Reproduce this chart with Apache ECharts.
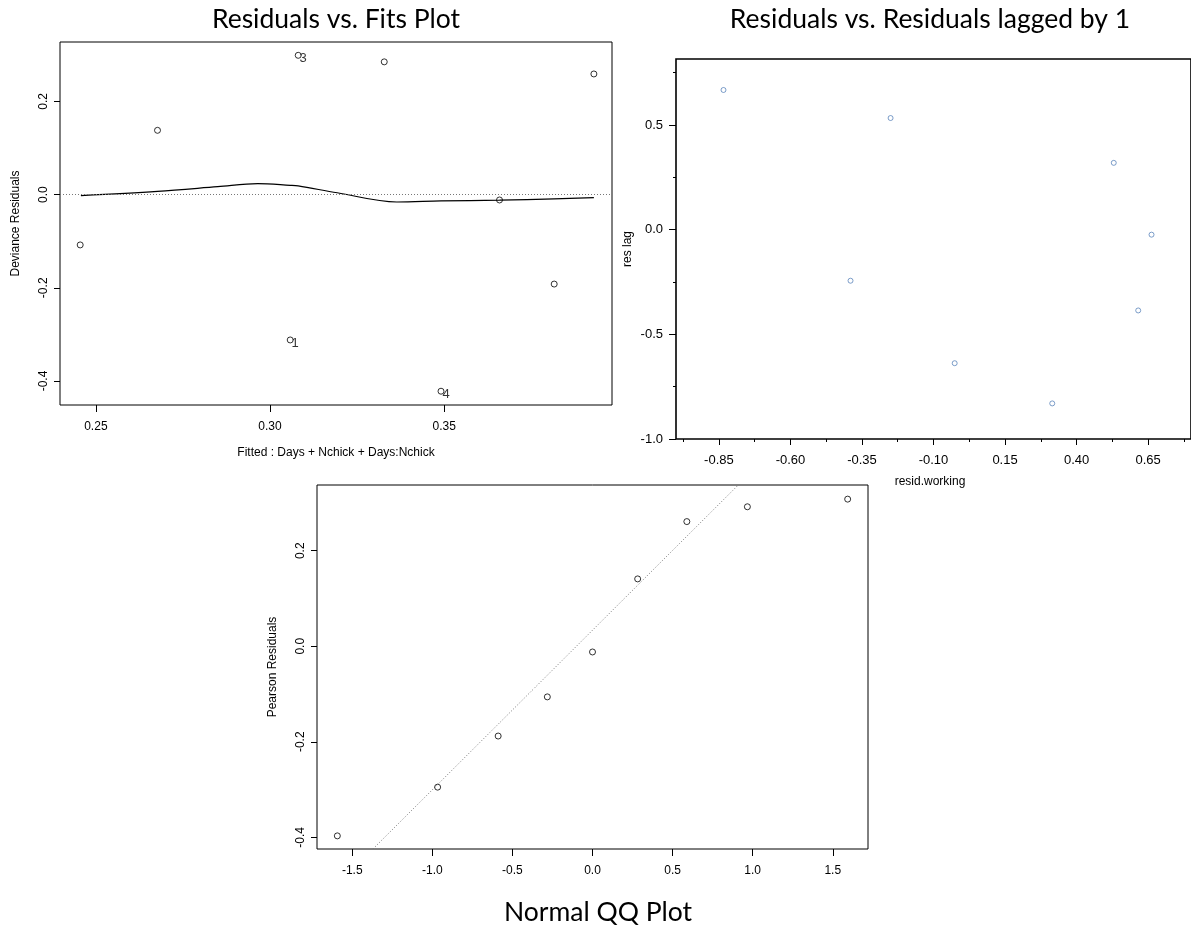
<!DOCTYPE html>
<html>
<head>
<meta charset="utf-8">
<script src="https://cdn.jsdelivr.net/npm/echarts@6/dist/echarts.min.js"></script>
<style>
html,body{margin:0;padding:0;background:#fff;}
#chart{width:1191px;height:930px;}
</style>
</head>
<body>
<div id="chart"></div>
<script>
// ---- Residuals vs. Fits ----
var fitsX   = [0.2455, 0.2677, 0.3081, 0.3328, 0.3930, 0.3659, 0.3816, 0.3058, 0.3491];
var devRes  = [-0.108, 0.138, 0.299, 0.285, 0.259, -0.0115, -0.192, -0.312, -0.422];
var fitLabels = ['', '', '3', '', '', '', '', '1', '4'];
var smoothX = [0.2457, 0.2677, 0.2850, 0.2965, 0.3058, 0.3081, 0.3193, 0.3364, 0.3491, 0.3659, 0.3816, 0.3930];
var smoothY = [-0.002, 0.007, 0.017, 0.0237, 0.020, 0.0186, 0.004, -0.0158, -0.0136, -0.012, -0.009, -0.0065];
var fitsXTicks = [0.25, 0.30, 0.35];
var fitsYTicks = [-0.4, -0.2, 0.0, 0.2];

// ---- Residuals vs. lagged residuals ----
var lagX = [-0.834, -0.250, -0.390, -0.026, 0.315, 0.530, 0.6155, 0.662];
var lagY = [0.667, 0.533, -0.244, -0.638, -0.830, 0.319, -0.386, -0.024];
var lagXTicks = [-0.85, -0.60, -0.35, -0.10, 0.15, 0.40, 0.65];
var lagXMinor = [-0.975, -0.725, -0.475, -0.225, 0.025, 0.275, 0.525, 0.775];
var lagYTicks = [-1.0, -0.5, 0.0, 0.5];
var lagYMinor = [-0.75, -0.25, 0.25, 0.75];

// ---- Normal QQ ----
var qqTheo = [-1.593, -0.967, -0.589, -0.282, 0.0, 0.282, 0.589, 0.967, 1.593];
var qqRes  = [-0.397, -0.295, -0.188, -0.106, -0.012, 0.141, 0.261, 0.292, 0.308];
var qqLineX = [-1.371, 0.910];
var qqLineY = [-0.4245, 0.3376];
var qqXTicks = [-1.5, -1.0, -0.5, 0.0, 0.5, 1.0, 1.5];
var qqYTicks = [-0.4, -0.2, 0.0, 0.2];

function zip(a, b) { return a.map(function (v, i) { return [v, b[i]]; }); }

var AX_FONT = 'Liberation Sans, Arial, sans-serif';
var TITLE_FONT = 'Lato, "Open Sans", sans-serif';

function valAxis(o) {
  var ax = {
    type: 'value',
    gridIndex: o.grid,
    min: o.min, max: o.max,
    position: o.position,
    splitLine: { show: false },
    axisLine: { show: false, onZero: false },
    axisTick: {
      show: o.tickLen > 0,
      inside: false,
      length: o.tickLen,
      lineStyle: { color: '#000', width: 1 },
      customValues: o.ticks
    },
    axisLabel: {
      show: !!o.labels,
      customValues: o.ticks,
      color: '#000',
      fontFamily: AX_FONT,
      fontSize: o.fontSize || 12,
      margin: o.margin || 8,
      rotate: o.rotate || 0,
      formatter: function (v) { return Number(v).toFixed(o.dec); }
    }
  };
  if (o.name) {
    ax.name = o.name;
    ax.nameLocation = 'middle';
    ax.nameGap = o.nameGap;
    ax.nameRotate = o.nameRotate;
    ax.nameTextStyle = { color: '#000', fontFamily: AX_FONT, fontSize: 12 };
  }
  return ax;
}

var chart = echarts.init(document.getElementById('chart'), null, { renderer: 'canvas' });

var hollow = function (c, w) {
  return { color: 'rgba(0,0,0,0)', borderColor: c, borderWidth: w };
};

var option = {
  animation: false,
  backgroundColor: '#fff',
  grid: [
    { left: 60, top: 42, width: 552, height: 363, show: true, borderColor: '#000', borderWidth: 1, backgroundColor: 'rgba(0,0,0,0)', containLabel: false },
    { left: 676, top: 59, width: 516, height: 380, show: true, borderColor: '#000', borderWidth: 1.6, backgroundColor: 'rgba(0,0,0,0)', containLabel: false },
    { left: 317, top: 485, width: 551, height: 364, show: true, borderColor: '#000', borderWidth: 1, backgroundColor: 'rgba(0,0,0,0)', containLabel: false }
  ],
  xAxis: [
    valAxis({ grid: 0, min: 0.2397, max: 0.3982, position: 'bottom', ticks: fitsXTicks, tickLen: 7, labels: true, dec: 2, margin: 16,
              name: 'Fitted : Days + Nchick + Days:Nchick', nameGap: 42 }),
    valAxis({ grid: 1, min: -1.0, max: 0.8, position: 'bottom', ticks: lagXTicks, tickLen: 6, labels: true, dec: 2, margin: 15, fontSize: 13 }),
    valAxis({ grid: 1, min: -1.0, max: 0.8, position: 'bottom', ticks: lagXMinor, tickLen: 3, labels: false, dec: 2 }),
    valAxis({ grid: 2, min: -1.72, max: 1.72, position: 'bottom', ticks: qqXTicks, tickLen: 7, labels: true, dec: 1, margin: 16 })
  ],
  yAxis: [
    valAxis({ grid: 0, min: -0.4516, max: 0.3276, position: 'left', ticks: fitsYTicks, tickLen: 6, labels: true, dec: 1, margin: 10, rotate: 90,
              name: 'Deviance Residuals', nameGap: 38, nameRotate: 90 }),
    valAxis({ grid: 1, min: -1.0, max: 0.815, position: 'left', ticks: lagYTicks, tickLen: 7, labels: true, dec: 1, margin: 13, fontSize: 13,
              name: 'res lag', nameGap: 42, nameRotate: 90 }),
    valAxis({ grid: 1, min: -1.0, max: 0.815, position: 'left', ticks: lagYMinor, tickLen: 3, labels: false, dec: 1 }),
    valAxis({ grid: 2, min: -0.4245, max: 0.3376, position: 'left', ticks: qqYTicks, tickLen: 6, labels: true, dec: 1, margin: 10, rotate: 90,
              name: 'Pearson Residuals', nameGap: 38, nameRotate: 90 })
  ],
  series: [
    {
      type: 'scatter', xAxisIndex: 0, yAxisIndex: 0,
      symbol: 'circle', symbolSize: 6,
      itemStyle: hollow('#000', 1),
      data: fitsX.map(function (x, i) {
        var d = { value: [x, devRes[i]], name: fitLabels[i] };
        if (fitLabels[i]) {
          d.label = { show: true, formatter: '{b}', position: 'inside', offset: [5, 3],
                      color: '#000', fontFamily: AX_FONT, fontSize: 13 };
        }
        return d;
      }),
      z: 3
    },
    {
      type: 'line', xAxisIndex: 0, yAxisIndex: 0,
      data: zip(smoothX, smoothY),
      showSymbol: false, symbol: 'none', smooth: 0.35,
      lineStyle: { color: '#000', width: 1.2 },
      markLine: {
        silent: true, symbol: ['none', 'none'],
        label: { show: false },
        lineStyle: { type: [1, 2], color: '#777', width: 1 },
        data: [{ yAxis: 0 }]
      },
      z: 2
    },
    {
      type: 'scatter', xAxisIndex: 1, yAxisIndex: 1,
      symbol: 'circle', symbolSize: 5,
      itemStyle: hollow('#4a78b4', 0.9),
      data: zip(lagX, lagY)
    },
    {
      type: 'scatter', xAxisIndex: 3, yAxisIndex: 3,
      symbol: 'circle', symbolSize: 6,
      itemStyle: hollow('#000', 1),
      data: zip(qqTheo, qqRes),
      z: 3
    },
    {
      type: 'line', xAxisIndex: 3, yAxisIndex: 3,
      data: zip(qqLineX, qqLineY),
      showSymbol: false, symbol: 'none',
      lineStyle: { color: '#777', width: 1, type: [1, 2] },
      z: 2
    }
  ],
  graphic: [
    { type: 'text', x: 336, y: 19, style: { text: 'Residuals vs. Fits Plot', font: '26.5px ' + TITLE_FONT, fill: '#000', align: 'center', verticalAlign: 'middle' } },
    { type: 'text', x: 930, y: 19, style: { text: 'Residuals vs. Residuals lagged by 1', font: '26.5px ' + TITLE_FONT, fill: '#000', align: 'center', verticalAlign: 'middle' } },
    { type: 'text', x: 598, y: 912, style: { text: 'Normal QQ Plot', font: '26.5px ' + TITLE_FONT, fill: '#000', align: 'center', verticalAlign: 'middle' } },
    { type: 'text', x: 930, y: 482, style: { text: 'resid.working', font: '12px ' + AX_FONT, fill: '#000', align: 'center', verticalAlign: 'middle' } }
  ]
};
chart.setOption(option);
</script>
</body>
</html>
